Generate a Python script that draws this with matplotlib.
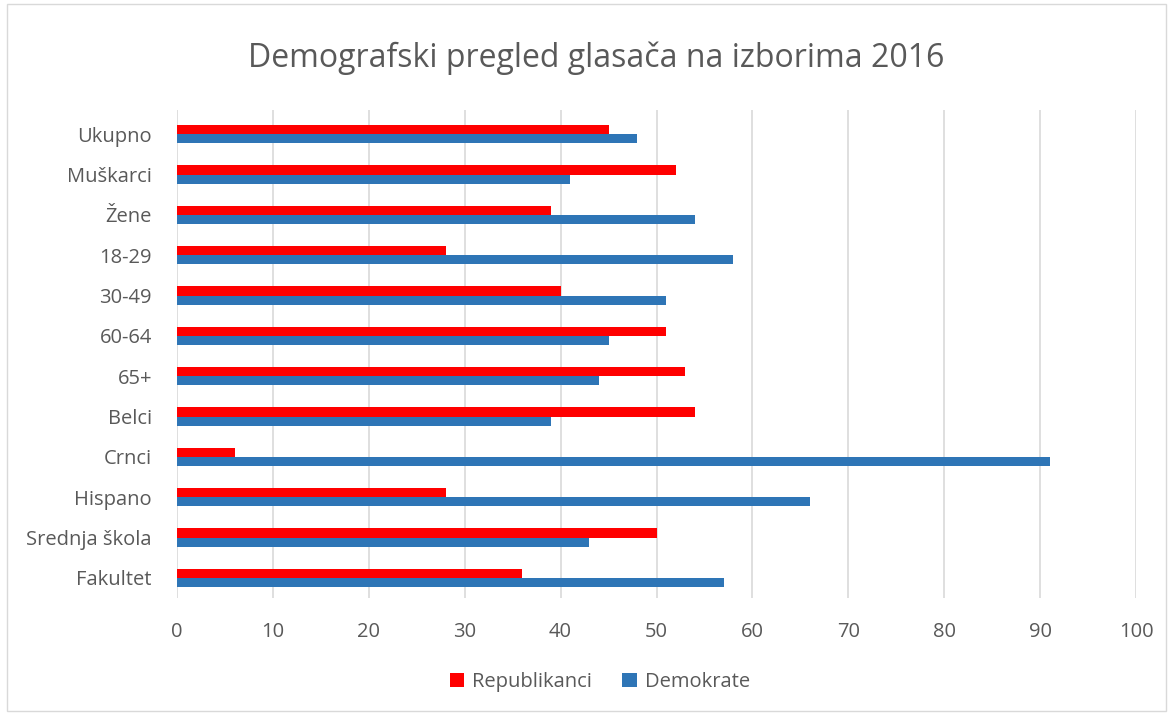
import matplotlib
matplotlib.use("Agg")
import matplotlib.pyplot as plt
import numpy as np

categories = ["Ukupno", "Muškarci", "Žene", "18-29", "30-49", "60-64", "65+",
              "Belci", "Crnci", "Hispano", "Srednja škola", "Fakultet"]
republikanci = [45, 52, 39, 28, 40, 51, 53, 54, 6, 28, 50, 36]
demokrate = [48, 41, 54, 58, 51, 45, 44, 39, 91, 66, 43, 57]
xticks = [0, 10, 20, 30, 40, 50, 60, 70, 80, 90, 100]

plt.rcParams['font.family'] = ['Open Sans', 'DejaVu Sans']
txt = '#595959'
W, H = 1173, 715
fig = plt.figure(figsize=(W/100, H/100), dpi=100)
ax = fig.add_axes([177/W, 1-598/H, (1136-177)/W, (598-110)/H])

y = np.arange(len(categories))
h = 0.225
ax.barh(y - h/2, republikanci, height=h, color='#FF0000', label='Republikanci', zorder=3)
ax.barh(y + h/2, demokrate, height=h, color='#2E75B6', label='Demokrate', zorder=3)

ax.set_xlim(0, 100)
ax.set_ylim(len(categories) - 0.5, -0.6)
ax.set_xticks(xticks)
ax.set_yticks(y)
ax.set_yticklabels(categories)
ax.tick_params(axis='both', length=0, labelsize=14.5, colors=txt)
ax.tick_params(axis='x', pad=17)
ax.tick_params(axis='y', pad=18)
ax.grid(axis='x', color='#D9D9D9', linewidth=1.2, zorder=0)
for s in ax.spines.values():
    s.set_visible(False)

fig.text(596/W, 1-58/H, "Demografski pregled glasača na izborima 2016",
         ha='center', va='center', fontsize=23, color=txt)

leg = fig.legend(loc='center', bbox_to_anchor=(600/W, 1-682/H), ncol=2, frameon=False,
                 fontsize=14.5, handlelength=0.7, handleheight=0.7, columnspacing=1.5,
                 handletextpad=0.4)
for t in leg.get_texts():
    t.set_color(txt)

border = plt.Rectangle((7/W, 4/H), (W-14)/W, (H-8)/H, transform=fig.transFigure,
                       fill=False, edgecolor='#D9D9D9', linewidth=1)
fig.add_artist(border)

fig.savefig("out.png", dpi=100, facecolor='white')
